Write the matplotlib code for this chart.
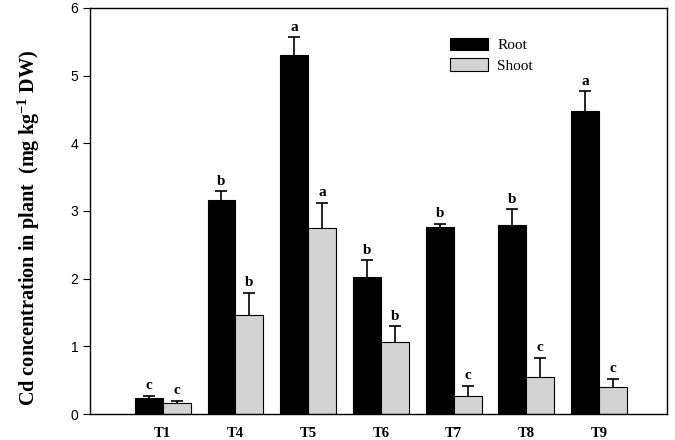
import matplotlib.pyplot as plt
import numpy as np

plt.rcParams['mathtext.fontset'] = 'custom'
plt.rcParams['mathtext.rm'] = 'Liberation Serif:bold'
plt.rcParams['mathtext.bf'] = 'Liberation Serif:bold'

treatments = ['T1', 'T4', 'T5', 'T6', 'T7', 'T8', 'T9']
root = [0.24, 3.16, 5.30, 2.03, 2.77, 2.80, 4.48]
root_err = [0.03, 0.13, 0.27, 0.24, 0.04, 0.23, 0.29]
shoot = [0.16, 1.47, 2.75, 1.07, 0.27, 0.55, 0.40]
shoot_err = [0.04, 0.32, 0.37, 0.23, 0.15, 0.28, 0.12]
root_letters = ['c', 'b', 'a', 'b', 'b', 'b', 'a']
shoot_letters = ['c', 'b', 'a', 'b', 'c', 'c', 'c']

fig = plt.figure(figsize=(6.75, 4.4), dpi=100)
ax = fig.add_axes([0.1335, 0.059, 0.855, 0.923])

x = np.arange(len(treatments))
w = 0.385
err_kw = dict(ecolor='black', elinewidth=1.2, capsize=4.6, capthick=1.2)

b1 = ax.bar(x - w / 2, root, w, color='black', edgecolor='black', linewidth=0.8,
            yerr=[np.zeros(len(root)), root_err], error_kw=err_kw, label='Root')
b2 = ax.bar(x + w / 2, shoot, w, color='#d3d3d3', edgecolor='black', linewidth=0.8,
            yerr=[np.zeros(len(shoot)), shoot_err], error_kw=err_kw, label='Shoot')
# only the upper half of the error bars is shown
for b in (b1, b2):
    b.errorbar.lines[1][0].set_visible(False)

# significance letters above the error bars
for i in range(len(treatments)):
    ax.text(x[i] - w / 2, root[i] + root_err[i] + 0.05, root_letters[i],
            ha='center', va='bottom', fontsize=11, fontweight='bold', family='Liberation Serif')
    ax.text(x[i] + w / 2, shoot[i] + shoot_err[i] + 0.05, shoot_letters[i],
            ha='center', va='bottom', fontsize=11, fontweight='bold', family='Liberation Serif')

ax.set_xlim(-1.0, 6.94)
ax.set_ylim(0, 6)
ax.set_xticks(x)
ax.set_xticklabels(treatments, fontweight='bold', family='Liberation Serif', fontsize=10.5)
ax.tick_params(axis='x', length=0, pad=9)
ax.set_yticks(range(0, 7))
ax.tick_params(axis='y', direction='out', length=5, labelsize=10)
for lab in ax.get_yticklabels():
    lab.set_family('Liberation Sans')

ax.set_ylabel('Cd concentration in plant  (mg kg$^{-1}$ DW)',
              fontweight='bold', family='Liberation Serif', fontsize=14.6)
ax.yaxis.set_label_coords(-0.083, 0.458)

for s in ax.spines.values():
    s.set_linewidth(1.0)

ax.legend(loc='upper left', bbox_to_anchor=(0.6, 0.96), frameon=False,
          prop={'family': 'Liberation Serif', 'size': 11},
          handlelength=2.45, handleheight=0.85, handletextpad=0.65, labelspacing=0.4)

plt.savefig('out.png', dpi=100)
